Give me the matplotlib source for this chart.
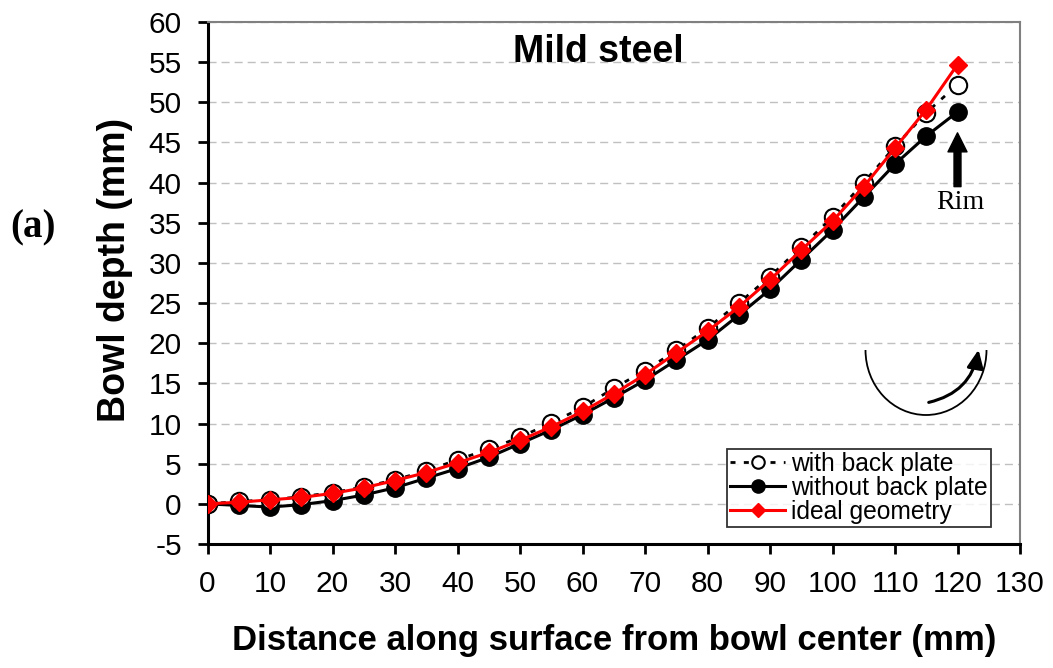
import matplotlib
matplotlib.use("Agg")
import matplotlib.pyplot as plt
from matplotlib.patches import Arc, FancyArrowPatch
from matplotlib.transforms import IdentityTransform

plt.rcParams["axes.unicode_minus"] = False

# Measured bowl profile (mm)
distance = [0, 5, 10, 15, 20, 25, 30, 35, 40, 45, 50, 55, 60,
            65, 70, 75, 80, 85, 90, 95, 100, 105, 110, 115, 120]
with_back_plate = [0.0, 0.3, 0.5, 0.9, 1.4, 2.1, 3.0, 4.1, 5.5, 6.8, 8.3, 10.1, 12.0,
                   14.4, 16.6, 19.1, 21.9, 25.0, 28.3, 32.0, 35.7, 40.0, 44.5, 48.7, 52.2]
without_back_plate = [0.0, -0.2, -0.4, -0.1, 0.4, 1.1, 2.0, 3.2, 4.4, 5.8, 7.5, 9.2, 11.1,
                      13.2, 15.4, 17.9, 20.4, 23.5, 26.7, 30.4, 34.1, 38.2, 42.3, 45.8, 48.8]
ideal_geometry = [0.0, 0.2, 0.5, 0.8, 1.3, 2.0, 2.9, 3.9, 5.1, 6.4, 7.9, 9.6, 11.5,
                  13.7, 16.1, 18.8, 21.5, 24.5, 27.9, 31.6, 35.2, 39.5, 44.3, 49.1, 54.7]

x_ticks = list(range(0, 131, 10))
y_ticks = list(range(-5, 61, 5))

W, H = 1053, 668
fig = plt.figure(figsize=(W / 100, H / 100), dpi=100)
ax = fig.add_axes([207.5 / W, 1 - 544 / H, (1020 - 207.5) / W, (544 - 22) / H])

sans = "Liberation Sans"
serif = "Liberation Serif"

ax.plot(distance, with_back_plate, color="black", lw=2, ls=(0, (1.8, 3)),
        marker="o", ms=12.5, mfc="white", mec="black", mew=1.5,
        label="with back plate", zorder=4)
ax.plot(distance, without_back_plate, color="black", lw=2.2,
        marker="o", ms=12.5, mfc="black", mec="black",
        label="without back plate", zorder=3)
ax.plot(distance, ideal_geometry, color="red", lw=2.2,
        marker="D", ms=9.5, mfc="red", mec="red", mew=1,
        label="ideal geometry", zorder=5)

ax.set_xlim(0, 130)
ax.set_ylim(-5, 60)
ax.set_xticks(x_ticks)
ax.set_yticks(y_ticks)
ax.yaxis.grid(True, color="#c0c0c0", ls=(0, (5.8, 3.6)), lw=1)
ax.set_axisbelow(True)

for side in ("top", "right"):
    ax.spines[side].set_color("#808080")
    ax.spines[side].set_linewidth(1.5)
for side in ("left", "bottom"):
    ax.spines[side].set_linewidth(2.2)
ax.tick_params(axis="both", direction="out", length=7.5, width=2,
               labelsize=21.5, pad=11)
for lab in ax.get_xticklabels() + ax.get_yticklabels():
    lab.set_fontfamily(sans)

ax.set_xlabel("Distance along surface from bowl center (mm)",
              fontsize=25, fontweight="bold", family=sans, va="center")
ax.xaxis.set_label_coords(0.5, -0.184)
ax.set_ylabel("Bowl depth (mm)", fontsize=27, fontweight="bold",
              family=sans, va="center")
ax.yaxis.set_label_coords(-0.114, 0.525)

ax.text(0.4806, 0.9425, "Mild steel", transform=ax.transAxes, ha="center",
        va="center", fontsize=27, fontweight="bold", family=sans)

fig.text(33 / W, 1 - 228 / H, "(a)", ha="center", va="center",
         fontsize=28, fontweight="bold", family=serif)

# Rim marker
ax.add_patch(FancyArrowPatch((120, 39.5), (120, 46.2),
                             arrowstyle="simple,head_length=13.7,head_width=13.7,tail_width=5",
                             mutation_scale=1, color="black", shrinkA=0,
                             shrinkB=0, zorder=6))
ax.text(120.4, 37.5, "Rim", ha="center", va="center", fontsize=20,
        family=serif)

# Rotation sketch
ax.add_patch(Arc((926, H - 350), 121, 130, theta1=180, theta2=360,
                 transform=IdentityTransform(), color="black", lw=1.3))
ax.add_patch(FancyArrowPatch((926, H - 403), (979, H - 347),
                             connectionstyle="arc3,rad=0.35",
                             arrowstyle="-|>,head_width=5,head_length=11",
                             transform=IdentityTransform(), color="black",
                             lw=2.2, mutation_scale=1))

leg = ax.legend(loc="upper left", bbox_to_anchor=(727 / W, 1 - 449 / H),
                bbox_transform=fig.transFigure,
                prop={"family": sans, "size": 17.7}, frameon=True,
                fancybox=False, edgecolor="black", borderpad=0.12,
                labelspacing=0.0, handlelength=2.25, handletextpad=0.25,
                borderaxespad=0)
leg.get_frame().set_linewidth(1.3)
leg.set_zorder(7)
for h, ms in zip(leg.legend_handles, (9, 9.5, 7.5)):
    h.set_markersize(ms)

fig.savefig("out.png", dpi=100)
